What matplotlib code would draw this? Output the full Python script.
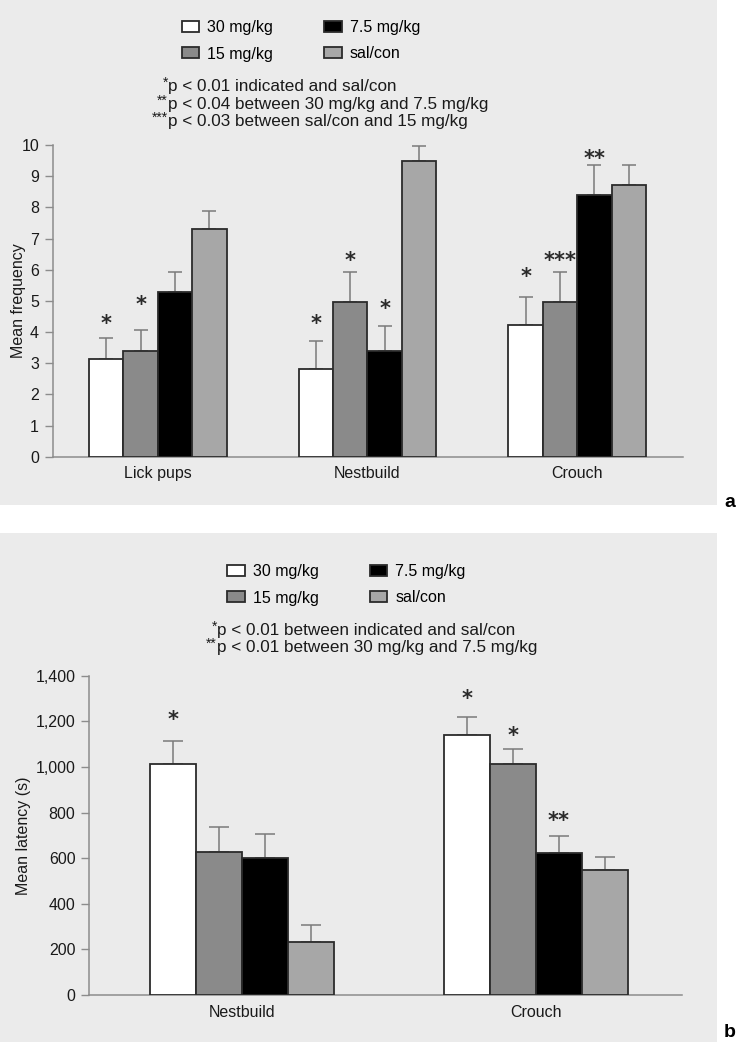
import numpy as np
import matplotlib
matplotlib.use("Agg")
import matplotlib.pyplot as plt
from matplotlib.patches import Rectangle
from matplotlib.ticker import FuncFormatter

plt.rcParams['font.family'] = ['Liberation Sans', 'DejaVu Sans']

## data
groups = ['30 mg/kg', '15 mg/kg', '7.5 mg/kg', 'sal/con']
colors = ['#ffffff', '#8a8a8a', '#000000', '#a7a7a7']

# panel a: mean frequency
cats_a = ['Lick pups', 'Nestbuild', 'Crouch']
mean_a = [[3.13, 2.82, 4.23],   # 30 mg/kg
          [3.40, 4.97, 4.97],   # 15 mg/kg
          [5.29, 3.39, 8.40],   # 7.5 mg/kg
          [7.30, 9.48, 8.71]]   # sal/con
err_a = [[0.67, 0.89, 0.88],
         [0.67, 0.95, 0.97],
         [0.63, 0.81, 0.97],
         [0.59, 0.50, 0.65]]
# (category, group, marker, height)
stars_a = [(0, 0, '*', 4.45), (0, 1, '*', 5.09),
           (1, 0, '*', 4.45), (1, 1, '*', 6.5), (1, 2, '*', 4.96),
           (2, 0, '*', 5.97), (2, 1, '***', 6.5), (2, 2, '**', 9.75)]
notes_a = [('*', 'p < 0.01 indicated and sal/con'),
           ('**', 'p < 0.04 between 30 mg/kg and 7.5 mg/kg'),
           ('***', 'p < 0.03 between sal/con and 15 mg/kg')]

# panel b: mean latency (s)
cats_b = ['Nestbuild', 'Crouch']
mean_b = [[1011, 1140],
          [626, 1011],
          [602, 624],
          [234, 547]]
err_b = [[104, 78],
         [111, 66],
         [103, 73],
         [73, 58]]
stars_b = [(0, 0, '*', 1235), (1, 0, '*', 1327), (1, 1, '*', 1165), (1, 2, '**', 792)]
notes_b = [('*', 'p < 0.01 between indicated and sal/con'),
           ('**', 'p < 0.01 between 30 mg/kg and 7.5 mg/kg')]

W, H = 744, 1050
BG = '#ebebeb'
AXC = '#8c8c8c'

fig = plt.figure(figsize=(W / 100, H / 100), dpi=100)
fig.patch.set_facecolor('white')


def px(x0, y0, x1, y1):
    # pixel box -> figure fraction [left, bottom, width, height]
    return [x0 / W, 1 - y1 / H, (x1 - x0) / W, (y1 - y0) / H]


# grey panels
for box in [(0, 0, 717, 505), (0, 533, 717, 1042)]:
    l, b, w, h = px(*box)
    fig.add_artist(Rectangle((l, b), w, h, transform=fig.transFigure,
                             facecolor=BG, edgecolor='none', zorder=0))


def panel(rect, cats, means, errs, stars, width, capsize, ylim, ystep,
          ylabel, ylab_x, xlim, fmt=None):
    ax = fig.add_axes(rect)
    ax.set_facecolor('none')
    x = np.arange(len(cats))
    bars = []
    for i in range(4):
        xi = x + (i - 1.5) * width
        ax.errorbar(xi, means[i], yerr=[np.zeros(len(cats)), errs[i]],
                    fmt='none', ecolor='#7a7a7a', elinewidth=1.1,
                    capsize=capsize, capthick=1.1, zorder=2)
        b = ax.bar(xi, means[i], width, color=colors[i], edgecolor='#2b2b2b',
                   linewidth=1.3, label=groups[i], zorder=3)
        bars.append(b)
    for c, g, s, y in stars:
        ax.annotate(s, (x[c] + (g - 1.5) * width, y), xytext=(0, -9),
                    textcoords='offset points', ha='center', va='baseline',
                    fontsize=15, fontweight='bold', family='DejaVu Sans',
                    color='#2a2a2a', zorder=4)
    ax.set_xlim(*xlim)
    ax.set_ylim(*ylim)
    ax.set_yticks(np.arange(ylim[0], ylim[1] + ystep / 2, ystep))
    if fmt:
        ax.yaxis.set_major_formatter(FuncFormatter(fmt))
    ax.set_xticks(x)
    ax.set_xticklabels(cats, fontsize=11.5, color='#1a1a1a')
    ax.tick_params(axis='x', length=0, pad=7)
    ax.tick_params(axis='y', direction='out', length=6, width=1, color=AXC,
                   labelsize=11.5, labelcolor='#1a1a1a', pad=4)
    for sp in ['top', 'right']:
        ax.spines[sp].set_visible(False)
    for sp in ['left', 'bottom']:
        ax.spines[sp].set_color(AXC)
        ax.spines[sp].set_linewidth(1.1)
    ax.set_ylabel(ylabel, fontsize=11.5, color='#1a1a1a')
    ax.yaxis.set_label_coords(ylab_x, 0.5)
    return ax, bars


ax_a, bars_a = panel(px(53, 145, 683, 456.7), cats_a, mean_a, err_a, stars_a,
                     0.164, 5, (0, 10), 1, 'Mean frequency', -0.043,
                     (-0.5, 2.505))
ax_b, bars_b = panel(px(89.3, 675.7, 682.3, 995), cats_b, mean_b, err_b, stars_b,
                     0.157, 7.5, (0, 1400), 200, 'Mean latency (s)', -0.099,
                     (-0.52, 1.498), fmt=lambda v, p: f'{int(v):,}')


def legend_and_notes(bars, lx, ly, nx, ny, step, notes):
    fig.legend(bars, groups, ncol=2, loc='upper left',
               bbox_to_anchor=(lx / W, 1 - ly / H), frameon=False,
               fontsize=11.5, handlelength=1.1, handleheight=0.68,
               handletextpad=0.5, columnspacing=3.2, labelspacing=0.72,
               borderpad=0, borderaxespad=0)
    for k, (st, txt) in enumerate(notes):
        y = 1 - (ny + k * step) / H
        fig.text(nx / W, y, txt, ha='left', va='center', fontsize=12.3,
                 color='#1a1a1a')
        fig.text(nx / W, y + 4 / H, st, ha='right', va='center', fontsize=10,
                 color='#1a1a1a')


legend_and_notes(bars_a, 181.5, 20, 168, 87, 17.4, notes_a)
legend_and_notes(bars_b, 227, 564, 217, 631, 16.7, notes_b)

fig.text(730 / W, 1 - 507 / H, 'a', ha='center', va='baseline', fontsize=14,
         fontweight='bold')
fig.text(730 / W, 1 - 1037 / H, 'b', ha='center', va='baseline', fontsize=14,
         fontweight='bold')

fig.savefig('out.png', dpi=100, facecolor=fig.get_facecolor())
